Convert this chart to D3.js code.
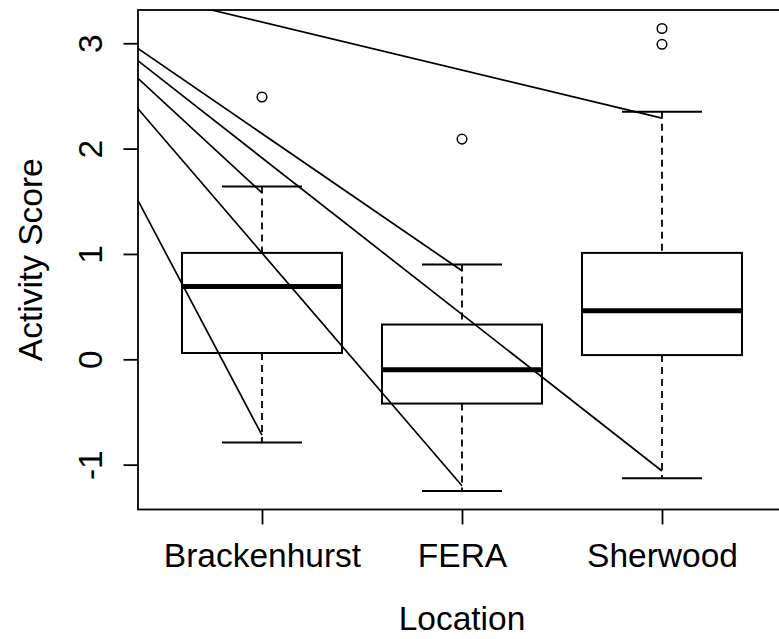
<!DOCTYPE html>
<html>
<head>
<meta charset="utf-8">
<script src="https://cdn.jsdelivr.net/npm/d3@7"></script>
<style>
  html, body { margin: 0; padding: 0; background: #fff; }
  svg { display: block; }
  text { font-family: "Liberation Sans", Arial, Helvetica, sans-serif; fill: #000; }
</style>
</head>
<body>
<svg id="chart" width="779" height="639"></svg>
<script>
// Activity score by location: box summaries
const categories   = ["Brackenhurst", "FERA", "Sherwood"];
const lowerWhisker = [-0.79, -1.25, -1.13];
const q1           = [0.06, -0.42, 0.04];
const medians      = [0.69, -0.10, 0.46];
const q3           = [1.01, 0.33, 1.01];
const upperWhisker = [1.64, 0.90, 2.35];
const outliers     = [[2.49], [2.09], [2.99, 3.14]];

// straight segments fanning in from a common point towards each group
const segOrigin    = [-0.25, 3.77];
const segUpperEnd  = [1.58, 0.84, 2.29];
const segLowerEnd  = [-0.72, -1.20, -1.06];

const yTicks = [-1, 0, 1, 2, 3];
const xTitle = "Location";
const yTitle = "Activity Score";

const svg = d3.select("#chart");
const plot = { left: 138, right: 786, top: 10, bottom: 509.5 };

// value range of the boxes and outliers, padded 4% each side
const allVals = lowerWhisker.concat(upperWhisker, outliers.flat());
const [lo, hi] = d3.extent(allVals);
const pad = (hi - lo) * 0.04;
const y = d3.scaleLinear().domain([lo - pad, hi + pad]).range([plot.bottom, plot.top]);
const x = d3.scaleLinear().domain([0.38, 3.62]).range([plot.left, plot.right]);
const pos = categories.map((c, i) => i + 1);

const fontSize = 33.5;

svg.append("defs").append("clipPath").attr("id", "plotclip")
  .append("rect")
  .attr("x", plot.left).attr("y", plot.top)
  .attr("width", plot.right - plot.left).attr("height", plot.bottom - plot.top);

const g = svg.append("g");

// whiskers (dashed)
categories.forEach((c, i) => {
  const cx = x(pos[i]);
  g.append("line").attr("x1", cx).attr("x2", cx)
    .attr("y1", y(upperWhisker[i])).attr("y2", y(q3[i]))
    .attr("stroke", "#000").attr("stroke-width", 1.8).attr("stroke-dasharray", "7,5");
  g.append("line").attr("x1", cx).attr("x2", cx)
    .attr("y1", y(q1[i])).attr("y2", y(lowerWhisker[i]))
    .attr("stroke", "#000").attr("stroke-width", 1.8).attr("stroke-dasharray", "7,5");
});

// whisker caps
const capHalf = 0.2;
categories.forEach((c, i) => {
  [upperWhisker[i], lowerWhisker[i]].forEach(v => {
    g.append("line")
      .attr("x1", x(pos[i] - capHalf)).attr("x2", x(pos[i] + capHalf))
      .attr("y1", y(v)).attr("y2", y(v))
      .attr("stroke", "#000").attr("stroke-width", 2);
  });
});

// boxes
const boxHalf = 0.4;
categories.forEach((c, i) => {
  g.append("rect")
    .attr("x", x(pos[i] - boxHalf)).attr("y", y(q3[i]))
    .attr("width", x(pos[i] + boxHalf) - x(pos[i] - boxHalf))
    .attr("height", y(q1[i]) - y(q3[i]))
    .attr("fill", "none").attr("stroke", "#000").attr("stroke-width", 2);
  g.append("line")
    .attr("x1", x(pos[i] - boxHalf)).attr("x2", x(pos[i] + boxHalf))
    .attr("y1", y(medians[i])).attr("y2", y(medians[i]))
    .attr("stroke", "#000").attr("stroke-width", 5);
});

// outliers
categories.forEach((c, i) => {
  outliers[i].forEach(v => {
    g.append("circle").attr("cx", x(pos[i])).attr("cy", y(v)).attr("r", 4.8)
      .attr("fill", "none").attr("stroke", "#000").attr("stroke-width", 1.5);
  });
});

// fan of segments, clipped to the plotting region
const segs = svg.append("g").attr("clip-path", "url(#plotclip)");
categories.forEach((c, i) => {
  [segUpperEnd[i], segLowerEnd[i]].forEach(v => {
    segs.append("line")
      .attr("x1", x(segOrigin[0])).attr("y1", y(segOrigin[1]))
      .attr("x2", x(pos[i])).attr("y2", y(v))
      .attr("stroke", "#000").attr("stroke-width", 1.7);
  });
});

// plot frame
svg.append("rect")
  .attr("x", plot.left).attr("y", plot.top)
  .attr("width", plot.right - plot.left).attr("height", plot.bottom - plot.top)
  .attr("fill", "none").attr("stroke", "#000").attr("stroke-width", 1.8);

// x axis
const xAxis = d3.axisBottom(x).tickValues(pos).tickFormat((d, i) => categories[i])
  .tickSize(15).tickPadding(0);
const xg = svg.append("g").attr("transform", `translate(0,${plot.bottom})`).call(xAxis);
xg.select(".domain").remove();
xg.selectAll(".tick line").attr("stroke", "#000").attr("stroke-width", 1.8);
xg.selectAll(".tick text")
  .attr("font-size", fontSize).attr("font-family", null)
  .attr("dy", null).attr("y", 567.3 - plot.bottom);

// y axis, labels parallel to the axis, plain hyphen for negatives
const yAxis = d3.axisLeft(y).tickValues(yTicks).tickFormat(d => String(d)).tickSize(14.5);
const yg = svg.append("g").attr("transform", `translate(${plot.left},0)`).call(yAxis);
yg.select(".domain").remove();
yg.selectAll(".tick line").attr("stroke", "#000").attr("stroke-width", 1.8);
yg.selectAll(".tick text")
  .attr("font-size", fontSize).attr("font-family", null)
  .attr("x", null).attr("dy", null)
  .attr("text-anchor", "middle")
  .attr("transform", `translate(${101.7 - plot.left},0) rotate(-90)`);

// axis titles
svg.append("text").attr("x", x(2)).attr("y", 630)
  .attr("text-anchor", "middle").attr("font-size", fontSize).text(xTitle);
svg.append("text")
  .attr("transform", `translate(42.3,${(plot.top + plot.bottom) / 2}) rotate(-90)`)
  .attr("text-anchor", "middle").attr("font-size", fontSize).text(yTitle);
</script>
</body>
</html>
